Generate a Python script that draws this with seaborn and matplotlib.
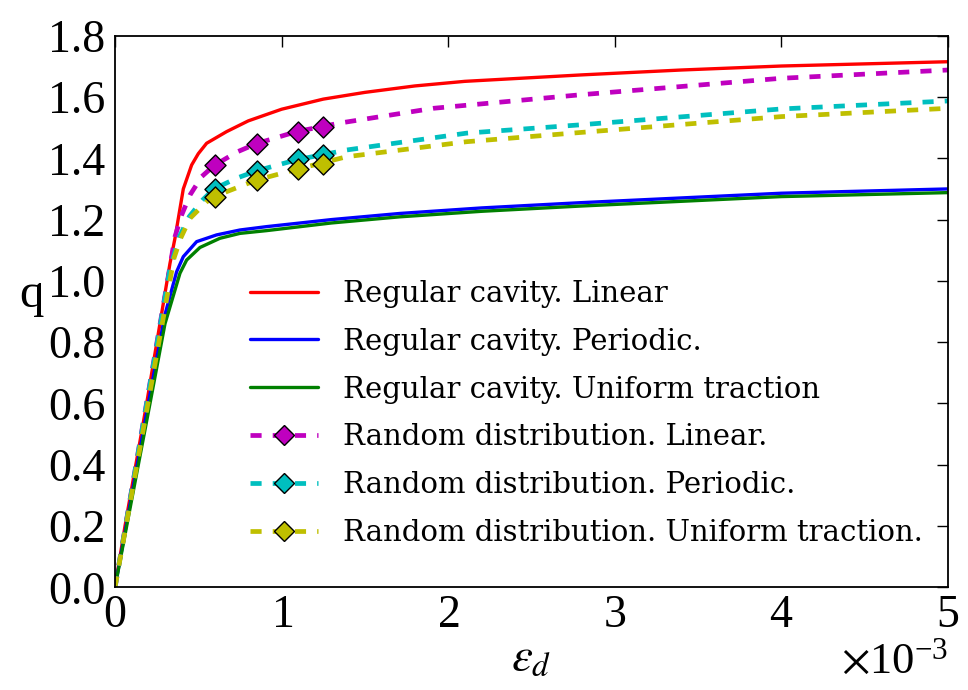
import numpy as np
import pandas as pd
import matplotlib
matplotlib.use("Agg")
import matplotlib.pyplot as plt
from matplotlib.lines import Line2D
from matplotlib.ticker import ScalarFormatter, FormatStrFormatter
import seaborn as sns

# ---------------- data (strain in units of 1e-3) ----------------
STRAIN_UNIT = 1e-3

reg_lin_x = [0, 0.06, 0.19, 0.33, 0.36, 0.41, 0.46, 0.50, 0.55, 0.67, 0.80, 1.0, 1.25, 1.5, 1.8, 2.1, 2.8, 3.4, 4.0, 5.0]
reg_lin_y = [0, 0.20, 0.60, 1.057, 1.139, 1.30, 1.378, 1.415, 1.449, 1.487, 1.522, 1.560, 1.593, 1.615, 1.636, 1.651, 1.672, 1.688, 1.701, 1.715]

reg_per_x = [0, 0.20, 0.30, 0.34, 0.37, 0.41, 0.49, 0.61, 0.75, 0.91, 1.3, 1.71, 2.2, 2.79, 4.0, 5.0]
reg_per_y = [0, 0.60, 0.89, 0.97, 1.03, 1.079, 1.128, 1.150, 1.166, 1.177, 1.200, 1.220, 1.238, 1.255, 1.286, 1.300]

reg_uni_x = [0, 0.21, 0.30, 0.36, 0.39, 0.43, 0.51, 0.63, 0.75, 0.91, 1.3, 1.71, 2.2, 2.79, 4.0, 5.0]
reg_uni_y = [0, 0.60, 0.86, 0.97, 1.025, 1.068, 1.109, 1.139, 1.155, 1.164, 1.189, 1.209, 1.227, 1.244, 1.275, 1.288]

rnd_lin_x = [0, 0.34, 0.36, 0.40, 0.45, 0.52, 0.594, 0.73, 0.85, 1.09, 1.35, 1.91, 2.79, 4.0, 5.0]
rnd_lin_y = [0, 1.079, 1.144, 1.215, 1.280, 1.340, 1.376, 1.420, 1.448, 1.487, 1.515, 1.563, 1.607, 1.661, 1.688]

rnd_per_x = [0, 0.33, 0.386, 0.446, 0.526, 0.594, 0.73, 0.85, 1.09, 1.39, 2.11, 2.79, 4.0, 5.0]
rnd_per_y = [0, 1.04, 1.144, 1.210, 1.264, 1.300, 1.335, 1.359, 1.395, 1.427, 1.482, 1.509, 1.561, 1.587]

rnd_uni_x = [0, 0.354, 0.394, 0.45, 0.55, 0.594, 0.67, 0.85, 1.09, 1.39, 2.11, 2.79, 4.0, 5.0]
rnd_uni_y = [0, 1.074, 1.139, 1.204, 1.258, 1.273, 1.291, 1.329, 1.364, 1.405, 1.454, 1.484, 1.536, 1.563]

marker_x = [0.6, 0.85, 1.1, 1.25]
rnd_lin_marks = [1.377, 1.448, 1.487, 1.503]
rnd_per_marks = [1.299, 1.359, 1.397, 1.411]
rnd_uni_marks = [1.273, 1.329, 1.364, 1.381]

labels = ["Regular cavity. Linear",
          "Regular cavity. Periodic.",
          "Regular cavity. Uniform traction",
          "Random distribution. Linear.",
          "Random distribution. Periodic.",
          "Random distribution. Uniform traction."]

x_ticks = [0, 1, 2, 3, 4, 5]
y_ticks = [0.0, 0.2, 0.4, 0.6, 0.8, 1.0, 1.2, 1.4, 1.6, 1.8]

# ---------------- style ----------------
sns.set_style("white")
plt.rcParams["font.family"] = ["Liberation Serif", "DejaVu Serif"]
plt.rcParams["mathtext.fontset"] = "stix"
plt.rcParams["lines.scale_dashes"] = False
plt.rcParams["text.color"] = "black"
plt.rcParams["axes.labelcolor"] = "black"

fig = plt.figure(figsize=(9.68, 6.9), dpi=100)
ax = fig.add_axes([0.1188, 0.1487, 0.9793 - 0.1188, 0.9483 - 0.1487])

solid = [(reg_lin_x, reg_lin_y, (1, 0, 0)),
         (reg_per_x, reg_per_y, (0, 0, 1)),
         (reg_uni_x, reg_uni_y, (0, 0.5, 0))]
dashed = [(rnd_lin_x, rnd_lin_y, rnd_lin_marks, (0.75, 0, 0.75)),
          (rnd_per_x, rnd_per_y, rnd_per_marks, (0, 0.75, 0.75)),
          (rnd_uni_x, rnd_uni_y, rnd_uni_marks, (0.75, 0.75, 0))]

dash_pat = (0, (8, 8))
solid_lw = 2.4
dash_lw = 3.4

for xs, ys, col in solid:
    df = pd.DataFrame({"x": np.asarray(xs) * STRAIN_UNIT, "y": ys})
    sns.lineplot(data=df, x="x", y="y", ax=ax, color=col, lw=solid_lw,
                 sort=False, estimator=None)

for xs, ys, mk, col in dashed:
    df = pd.DataFrame({"x": np.asarray(xs) * STRAIN_UNIT, "y": ys})
    sns.lineplot(data=df, x="x", y="y", ax=ax, color=col, lw=dash_lw,
                 linestyle=dash_pat, sort=False, estimator=None)
    dm = pd.DataFrame({"x": np.asarray(marker_x) * STRAIN_UNIT, "y": mk})
    sns.scatterplot(data=dm, x="x", y="y", ax=ax, color=col, marker="D",
                    s=115, edgecolor="black", linewidth=1.0, zorder=5)

ax.set_xlim(0, 5 * STRAIN_UNIT)
ax.set_ylim(0, 1.8)
ax.set_xticks(np.asarray(x_ticks) * STRAIN_UNIT)
ax.set_yticks(y_ticks)
fmt = ScalarFormatter(useMathText=True)
fmt.set_powerlimits((-2, 2))
ax.xaxis.set_major_formatter(fmt)
ax.yaxis.set_major_formatter(FormatStrFormatter("%.1f"))

ax.tick_params(axis="both", which="major", direction="in", length=8, width=1.0,
               labelsize=33, top=True, right=True, pad=7, colors="black")
ax.tick_params(axis="x", pad=5)
ax.xaxis.get_offset_text().set_fontsize(32)
for sp in ax.spines.values():
    sp.set_visible(True)
    sp.set_color("black")
    sp.set_linewidth(1.3)

ax.set_xlabel(r"$\varepsilon_d$", fontsize=34, labelpad=0)
ax.set_ylabel("q", fontsize=35, rotation=0, va="center")
ax.yaxis.set_label_coords(-0.1, 0.53)

handles = []
for _, _, col in solid:
    handles.append(Line2D([], [], color=col, lw=solid_lw))
for _, _, _, col in dashed:
    handles.append(Line2D([], [], color=col, lw=dash_lw, linestyle=dash_pat,
                          marker="D", markersize=10, markeredgecolor="black",
                          markerfacecolor=col, markeredgewidth=1.0))
leg = ax.legend(handles, labels, loc="upper left", bbox_to_anchor=(0.13, 0.605),
                frameon=False, prop={"family": "DejaVu Serif", "size": 21},
                handlelength=2.36, handletextpad=0.86,
                labelspacing=0.68, numpoints=1)
for t in leg.get_texts():
    t.set_color("black")

fig.savefig("out.png", dpi=100)
